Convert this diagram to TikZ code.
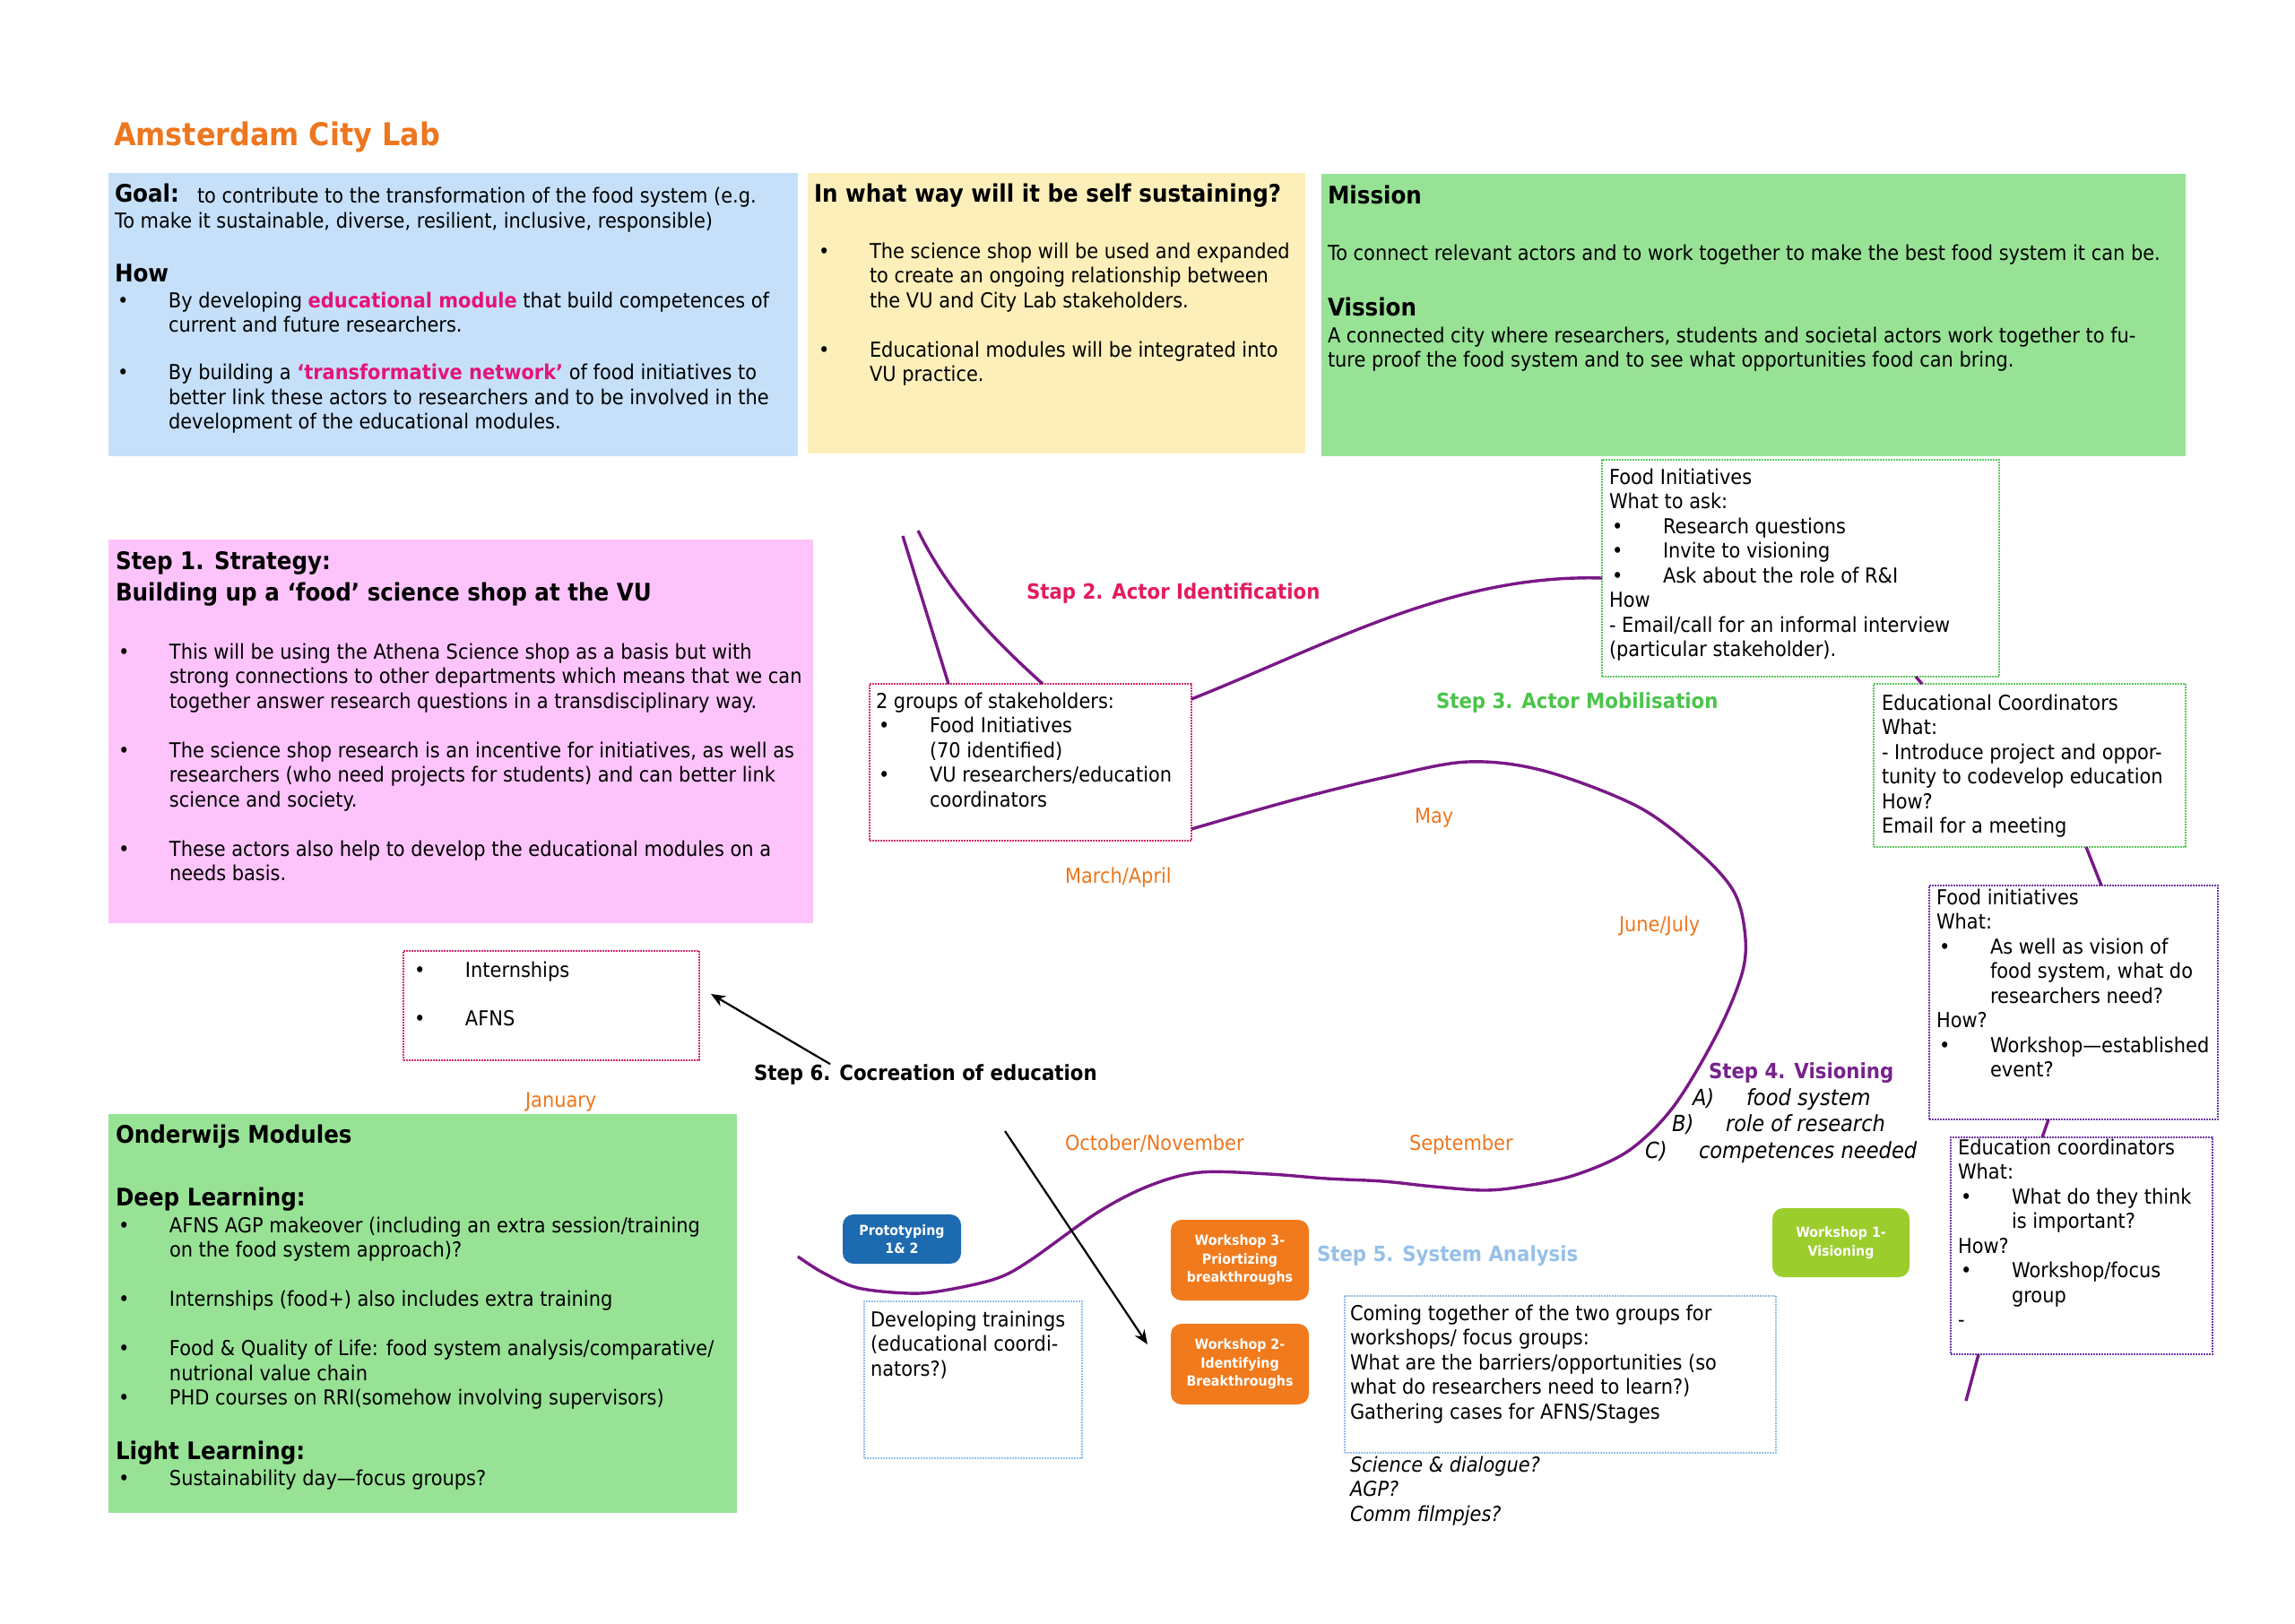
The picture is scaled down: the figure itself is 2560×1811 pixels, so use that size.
\documentclass[tikz,border=0pt]{standalone}
\usepackage{fontspec}
\setmainfont{DejaVu Sans}[FakeStretch=0.91, BoldFont={DejaVu Sans Bold}, ItalicFont={DejaVu Sans Oblique}, BoldItalicFont={DejaVu Sans Bold Oblique}]
\usetikzlibrary{fit,calc,arrows.meta}

\definecolor{goalblue}{RGB}{198,224,250}
\definecolor{sustyellow}{RGB}{253,239,185}
\definecolor{missgreen}{RGB}{152,226,150}
\definecolor{steppink}{RGB}{252,196,250}
\definecolor{orangeT}{RGB}{237,118,30}
\definecolor{hotpink}{RGB}{228,20,120}
\definecolor{crim}{RGB}{228,27,95}
\definecolor{grnT}{RGB}{76,196,76}
\definecolor{lblue}{RGB}{150,192,232}
\definecolor{purp}{RGB}{118,34,140}
\definecolor{tlpurp}{RGB}{122,24,135}
\definecolor{pinkbd}{RGB}{214,40,110}
\definecolor{greenbd}{RGB}{92,198,92}
\definecolor{purpbd}{RGB}{112,56,170}
\definecolor{bluebd}{RGB}{150,192,232}
\definecolor{wsblue}{RGB}{28,106,176}
\definecolor{wsorange}{RGB}{240,122,28}
\definecolor{wslime}{RGB}{155,205,45}

\newcommand\fBody{\fontsize{11.5}{13.75}\selectfont}
\newcommand\fHead{\bfseries\fontsize{13.5}{17.5}\selectfont}
\newcommand\fStep{\bfseries\fontsize{11.7}{14}\selectfont}
\newcommand\fWs{\bfseries\fontsize{7.8}{10.25}\selectfont}
\newcommand\fIt{\itshape\fontsize{12.4}{14.75}\selectfont}
\newcommand\fTitle{\bfseries\fontsize{17.5}{20}\selectfont}
\newcommand\bul{\hspace*{1.5pt}\makebox[28.5pt][l]{\textbullet}}
\newcommand\cnt{\hspace*{30pt}}
\newcommand\pk[1]{\textbf{\textcolor{hotpink}{#1}}}

\tikzset{
  tx/.style={anchor=north west, inner sep=0pt, outer sep=0pt, align=left, font=\fBody, yshift=9.625pt},
  txh/.style={anchor=north west, inner sep=0pt, outer sep=0pt, align=left, font=\fHead, yshift=12.25pt},
  lbl/.style={anchor=base west, inner sep=0pt, outer sep=0pt, font=\fBody},
  hd/.style={anchor=base west, inner sep=0pt, outer sep=0pt, font=\fHead},
  fillbox/.style={inner sep=0pt, outer sep=0pt, draw=none},
  dotbox/.style={inner sep=0pt, outer sep=0pt, draw, line width=0.8pt, dash pattern=on 0.8pt off 0.7pt},
  ws/.style={rounded corners=6pt, text=white, font=\fWs, align=center, inner sep=0pt, outer sep=0pt},
  tl/.style={draw=tlpurp, line width=1.7pt},
  arr/.style={draw=black, line width=1.1pt, -{Stealth[length=8pt,width=6.5pt]}},
}

\begin{document}
\begin{tikzpicture}[x=0.5pt,y=-0.5pt]
\useasboundingbox (0,0) rectangle (2560,1811);
\fill[white] (0,0) rectangle (2560,1811);

% ---------- filled boxes ----------
\node[fillbox, fill=goalblue, fit={(121,193) (890,509)}] (goal) {};
\node[fillbox, fill=sustyellow, fit={(901,193) (1456,506)}] (sust) {};
\node[fillbox, fill=missgreen, fit={(1474,194) (2438,509)}] (miss) {};
\node[fillbox, fill=steppink, fit={(121,602) (907,1030)}] (step1) {};
\node[fillbox, fill=missgreen, fit={(121,1243) (822,1688)}] (onder) {};

% ---------- dotted boxes ----------
\node[dotbox, draw=pinkbd, fit={(970,763) (1329,938)}] (stake) {};
\node[dotbox, draw=greenbd, fit={(1787,513) (2230,755)}] (fi) {};
\node[dotbox, draw=greenbd, fit={(2090,763) (2438,945)}] (ec) {};
\node[dotbox, draw=purpbd, fit={(2152,988) (2474,1249)}] (pfi) {};
\node[dotbox, draw=purpbd, fit={(2176,1269) (2468,1511)}] (pec) {};
\node[dotbox, draw=pinkbd, fit={(450,1061) (780,1183)}] (intern) {};
\node[dotbox, draw=bluebd, fit={(964,1452) (1207,1627)}] (devt) {};
\node[dotbox, draw=bluebd, fit={(1500,1446) (1981,1621)}] (cometog) {};

% ---------- workshop boxes ----------
\node[ws, fill=wsblue, minimum width=66pt, minimum height=27.5pt] (proto) at (1006,1382.5) {Prototyping\\1\& 2};
\node[ws, fill=wsorange, minimum width=77pt, minimum height=45pt] (ws3) at (1383,1406) {Workshop 3-\\Priortizing\\breakthroughs};
\node[ws, fill=wsorange, minimum width=77pt, minimum height=45pt] (ws2) at (1383,1522) {Workshop 2-\\Identifying\\Breakthroughs};
\node[ws, fill=wslime, minimum width=76.5pt, minimum height=38.5pt] (ws1) at (2053.5,1386.5) {Workshop 1-\\Visioning};

% ---------- title ----------
\node[lbl, font=\fTitle, text=orangeT] (title) at (127,162) {Amsterdam City Lab};

% ---------- goal box ----------
\node[hd] (goalh) at (128,225) {Goal:};
\node[lbl] (goalt) at (220,226) {to contribute to the transformation of the food system (e.g.};
\node[lbl] (goalt2) at (128,254) {To make it sustainable, diverse, resilient, inclusive, responsible)};
\node[hd] (howh) at (128,314) {How};
\node[tx] (howt) at (128,343) {\strut\bul By developing \pk{educational module} that build competences of\\\cnt current and future researchers.\\[12.75pt]\bul By building a \pk{‘transformative network’} of food initiatives to\\\cnt better link these actors to researchers and to be involved in the\\\cnt development of the educational modules.};

% ---------- self sustaining ----------
\node[hd] (susth) at (908,225) {In what way will it be self sustaining?};
\node[tx] (sustt) at (910,288) {\strut\bul The science shop will be used and expanded\\\cnt to create an ongoing relationship between\\\cnt the VU and City Lab stakeholders.\\[13.75pt]\bul Educational modules will be integrated into\\\cnt VU practice.};

% ---------- mission ----------
\node[hd] (missh) at (1481,227) {Mission};
\node[lbl] (misst) at (1481,290) {To connect relevant actors and to work together to make the best food system it can be.};
\node[hd] (vish) at (1481,352) {Vission};
\node[tx] (vist) at (1481,382) {\strut A connected city where researchers, students and societal actors work together to fu-\\ture proof the food system and to see what opportunities food can bring.};

% ---------- step 1 ----------
\node[txh] (step1h) at (129,635) {\strut Step 1. Strategy:\\Building up a ‘food’ science shop at the VU};
\node[tx] (step1t) at (129,735) {\strut\bul This will be using the Athena Science shop as a basis but with\\\cnt strong connections to other departments which means that we can\\\cnt together answer research questions in a transdisciplinary way.\\[13.75pt]\bul The science shop research is an incentive for initiatives, as well as\\\cnt researchers (who need projects for students) and can better link\\\cnt science and society.\\[13.75pt]\bul These actors also help to develop the educational modules on a\\\cnt needs basis.};

% ---------- onderwijs ----------
\node[hd] (onh) at (129,1275) {Onderwijs Modules};
\node[hd] (deeph) at (129,1345) {Deep Learning:};
\node[tx] (deept) at (129,1375) {\strut\bul AFNS AGP makeover (including an extra session/training\\\cnt on the food system approach)?\\[13.75pt]\bul Internships (food+) also includes extra training\\[13.75pt]\bul Food \& Quality of Life: food system analysis/comparative/\\\cnt nutrional value chain\\\bul PHD courses on RRI(somehow involving supervisors)};
\node[hd] (lighth) at (129,1628) {Light Learning:};
\node[tx] (lightt) at (129,1657) {\strut\bul Sustainability day—focus groups?};

% ---------- dotted box texts ----------
\node[tx] (staket) at (977,790) {\strut 2 groups of stakeholders:\\\bul Food Initiatives\\\cnt(70 identified)\\\bul VU researchers/education\\\cnt coordinators};
\node[tx] (fit) at (1795,540) {\strut Food Initiatives\\What to ask:\\\bul Research questions\\\bul Invite to visioning\\\bul Ask about the role of R\&I\\How\\- Email/call for an informal interview\\(particular stakeholder).};
\node[tx] (ect) at (2099,792) {\strut Educational Coordinators\\What:\\- Introduce project and oppor-\\tunity to codevelop education\\How?\\Email for a meeting};
\node[tx] (pfit) at (2160,1009) {\strut Food initiatives\\What:\\\bul As well as vision of\\\cnt food system, what do\\\cnt researchers need?\\How?\\\bul Workshop—established\\\cnt event?};
\node[tx] (pect) at (2184,1288) {\strut Education coordinators\\What:\\\bul What do they think\\\cnt is important?\\How?\\\bul Workshop/focus\\\cnt group\\-};
\node[tx] (interntx) at (459,1090) {\strut\bul Internships\\[13.25pt]\bul AFNS};
\node[tx] (devtt) at (971,1480) {\strut Developing trainings\\(educational coordi-\\nators?)};
\node[tx] (cometogt) at (1506,1473) {\strut Coming together of the two groups for\\workshops/ focus groups:\\What are the barriers/opportunities (so\\what do researchers need to learn?)\\Gathering cases for AFNS/Stages};
\node[tx, font=\fBody\itshape] (scid) at (1506,1642) {\strut Science \& dialogue?\\AGP?\\Comm filmpjes?};

% ---------- step labels ----------
\node[lbl, font=\fStep, text=crim] (s2) at (1145,668) {Stap 2. Actor Identification};
\node[lbl, font=\fStep, text=grnT] (s3) at (1602,790) {Step 3. Actor Mobilisation};
\node[lbl, font=\fStep, text=purp] (s4) at (1906,1203) {Step 4. Visioning};
\node[lbl, font=\fIt] (s4a) at (1888,1233) {\makebox[30pt][l]{A)}food system};
\node[lbl, font=\fIt] (s4b) at (1865,1262) {\makebox[30pt][l]{B)}role of research};
\node[lbl, font=\fIt] (s4c) at (1835,1292) {\makebox[30pt][l]{C)}competences needed};
\node[lbl, font=\fStep, text=lblue] (s5) at (1469,1407) {Step 5. System Analysis};
\node[lbl, font=\fStep] (s6) at (841,1205) {Step 6. Cocreation of education};

% ---------- months ----------
\node[lbl, text=orangeT] (mar) at (1188,985) {March/April};
\node[lbl, text=orangeT] (may) at (1578,918) {May};
\node[lbl, text=orangeT] (jun) at (1806,1039) {June/July};
\node[lbl, text=orangeT] (sep) at (1572,1283) {September};
\node[lbl, text=orangeT] (oct) at (1188,1283) {October/November};
\node[lbl, text=orangeT] (jan) at (586,1235) {January};

% ---------- purple connectors ----------
\coordinate (c1) at (1007,598);
\coordinate (c2) at (1024,592);
\draw[tl] (c1) -- ($(stake.north west)+(88,0)$);
\draw[tl] (c2) .. controls (1060,665) and (1110,715) .. ($(stake.north west)+(193,0)$);
\draw[tl] ($(stake.north east)+(0,17)$) .. controls (1480,720) and (1620,640) .. ($(fi.west)+(0,11)$);
\coordinate (t0) at ($(stake.south east)+(0,-13)$);
\coordinate (tend) at (890,1402);
\draw[tl] plot[smooth, tension=0.55] coordinates {(t0) (1441,893) (1546,867) (1637,850) (1722,860) (1827,900) (1894,950) (1933,993) (1946,1037) (1944,1083) (1917,1150) (1868,1233) (1818,1283) (1760,1310) (1703,1323) (1657,1328) (1600,1324) (1542,1318) (1480,1315) (1416,1310) (1339,1308) (1282,1323) (1224,1353) (1148,1407) (1110,1427) (1052,1440) (1014,1443) (957,1437) (918,1420) (tend)};

\draw[tl] ($(fi.south west)+(350,0)$) -- ($(ec.north west)+(54,0)$);
\draw[tl] ($(ec.south west)+(237,0)$) -- ($(pfi.north west)+(192,0)$);
\draw[tl] ($(pfi.south west)+(133,0)$) -- ($(pec.north west)+(102,0)$);
\coordinate (pend) at (2193,1563);
\draw[tl] ($(pec.south west)+(31,0)$) -- (pend);

% ---------- step 6 arrows ----------
\coordinate (s6a) at ($(s6.north west)+(85,0)$);
\coordinate (s6b) at (1121,1262);
\draw[arr] (s6a) -- ($(intern.east)+(13,-13)$);
\draw[arr] (s6b) -- ($(ws2.west)+(-26,-22)$);
\end{tikzpicture}
\end{document}
